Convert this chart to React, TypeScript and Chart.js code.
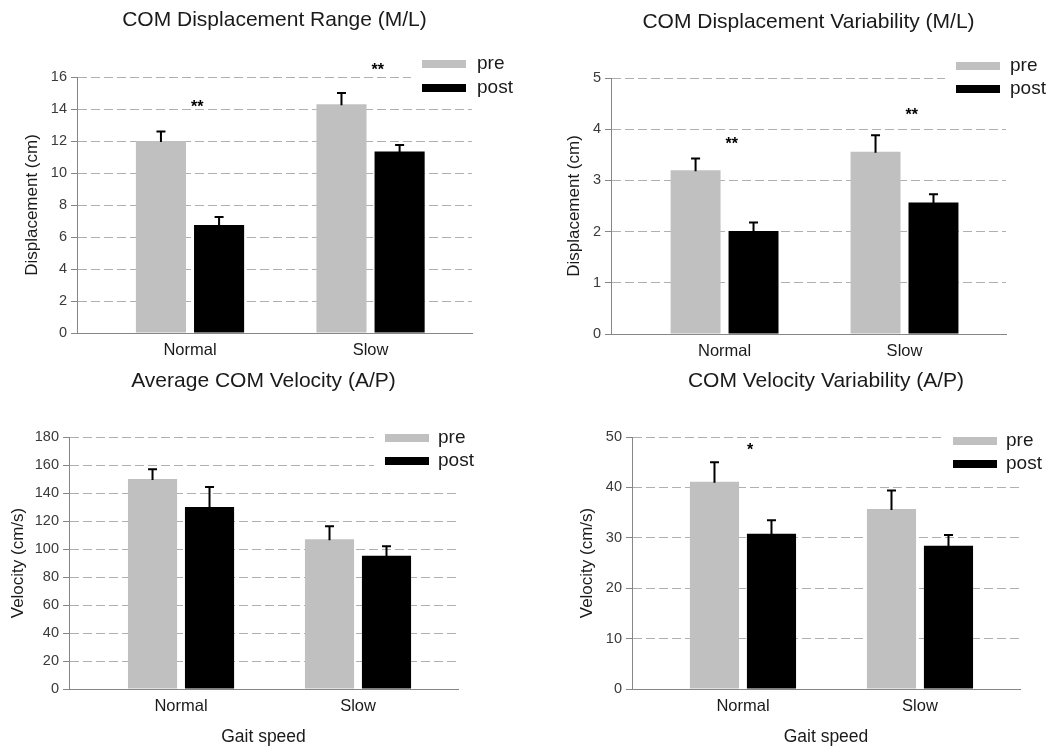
import React, { useEffect, useRef } from 'react';
import { Chart, registerables } from 'chart.js';

Chart.register(...registerables);

const FONT = "'Liberation Sans', Arial, Helvetica, sans-serif";

// ---------- shared data ----------
const categories = ['Normal', 'Slow'];
const seriesNames = ['pre', 'post'];
const xAxisTitle = 'Gait speed';

// ---------- Panel A: COM Displacement Range (M/L) ----------
const rangeTitle = 'COM Displacement Range (M/L)';
const rangeYLabel = 'Displacement (cm)';
const rangePre = [12.0, 14.3];
const rangePreErr = [0.6, 0.7];
const rangePost = [6.75, 11.35];
const rangePostErr = [0.5, 0.4];
const rangeYMax = 16;
const rangeYStep = 2;
const rangeSig = ['**', '**'];
const rangeSigY = [14.4, 16.7];

// ---------- Panel B: COM Displacement Variability (M/L) ----------
const dispVarTitle = 'COM Displacement Variability (M/L)';
const dispVarYLabel = 'Displacement (cm)';
const dispVarPre = [3.2, 3.56];
const dispVarPreErr = [0.23, 0.32];
const dispVarPost = [2.01, 2.57];
const dispVarPostErr = [0.17, 0.16];
const dispVarYMax = 5;
const dispVarYStep = 1;
const dispVarSig = ['**', '**'];
const dispVarSigY = [3.79, 4.36];

// ---------- Panel C: Average COM Velocity (A/P) ----------
const avgVelTitle = 'Average COM Velocity (A/P)';
const avgVelYLabel = 'Velocity (cm/s)';
const avgVelPre = [150, 107];
const avgVelPreErr = [7, 9.3];
const avgVelPost = [130, 95.2];
const avgVelPostErr = [14.3, 6.7];
const avgVelYMax = 180;
const avgVelYStep = 20;
const avgVelSig: string[] = ['', ''];
const avgVelSigY = [0, 0];

// ---------- Panel D: COM Velocity Variability (A/P) ----------
const velVarTitle = 'COM Velocity Variability (A/P)';
const velVarYLabel = 'Velocity (cm/s)';
const velVarPre = [41.1, 35.7];
const velVarPreErr = [3.9, 3.7];
const velVarPost = [30.8, 28.4];
const velVarPostErr = [2.7, 2.15];
const velVarYMax = 50;
const velVarYStep = 10;
const velVarSig = ['*', ''];
const velVarSigY = [48.3, 0];

// ---------- styles ----------
const PRE_COLOR = '#c0c0c0';
const POST_COLOR = '#000000';
const AXIS_COLOR = '#868686';
const GRID_COLOR = '#b0b0b0';
const TEXT_COLOR = '#1a1a1a';
const TICK_COLOR = '#3a3a3a';
const SIG_DX = 0.04;

type Layout = {
  x: number; y: number; w: number; h: number;
  axisX: number; plotTop: number; bottom: number; right: number;
  xMin: number; xMax: number;
  titleY: number; yTitleX: number;
  swatchX: number; textX: number; legY1: number; legY2: number;
  xTitle: boolean;
};

const layouts: Layout[] = [
  { x: 0, y: 0, w: 529, h: 360, axisX: 77, plotTop: 77, bottom: 333, right: 472, xMin: -0.626, xMax: 1.562, titleY: 20, yTitleX: 32, swatchX: 422, textX: 477, legY1: 64, legY2: 88, xTitle: false },
  { x: 529, y: 0, w: 529, h: 360, axisX: 82, plotTop: 78, bottom: 334, right: 477, xMin: -0.631, xMax: 1.564, titleY: 22, yTitleX: 45, swatchX: 427, textX: 481, legY1: 66, legY2: 89, xTitle: false },
  { x: 0, y: 360, w: 529, h: 387, axisX: 69, plotTop: 77, bottom: 329, right: 458, xMin: -0.633, xMax: 1.565, titleY: 21, yTitleX: 18, swatchX: 385, textX: 438, legY1: 78, legY2: 101, xTitle: true },
  { x: 529, y: 360, w: 529, h: 387, axisX: 103, plotTop: 77, bottom: 329, right: 491, xMin: -0.627, xMax: 1.565, titleY: 21, yTitleX: 58, swatchX: 424, textX: 477, legY1: 81, legY2: 104, xTitle: true },
];

type PanelSpec = {
  title: string; yLabel: string;
  pre: number[]; preErr: number[]; post: number[]; postErr: number[];
  yMax: number; yStep: number; sig: string[]; sigY: number[];
  layout: Layout;
};

const panels: PanelSpec[] = [
  { title: rangeTitle, yLabel: rangeYLabel, pre: rangePre, preErr: rangePreErr, post: rangePost, postErr: rangePostErr, yMax: rangeYMax, yStep: rangeYStep, sig: rangeSig, sigY: rangeSigY, layout: layouts[0] },
  { title: dispVarTitle, yLabel: dispVarYLabel, pre: dispVarPre, preErr: dispVarPreErr, post: dispVarPost, postErr: dispVarPostErr, yMax: dispVarYMax, yStep: dispVarYStep, sig: dispVarSig, sigY: dispVarSigY, layout: layouts[1] },
  { title: avgVelTitle, yLabel: avgVelYLabel, pre: avgVelPre, preErr: avgVelPreErr, post: avgVelPost, postErr: avgVelPostErr, yMax: avgVelYMax, yStep: avgVelYStep, sig: avgVelSig, sigY: avgVelSigY, layout: layouts[2] },
  { title: velVarTitle, yLabel: velVarYLabel, pre: velVarPre, preErr: velVarPreErr, post: velVarPost, postErr: velVarPostErr, yMax: velVarYMax, yStep: velVarYStep, sig: velVarSig, sigY: velVarSigY, layout: layouts[3] },
];

const overlayPlugin = {
  id: 'overlay',
  afterDatasetsDraw(chart: any, _args: any, opts: any) {
    const ctx = chart.ctx;
    const yS = chart.scales.y;
    const xS = chart.scales.x;
    // error bars (upper only)
    chart.data.datasets.forEach((ds: any, di: number) => {
      const meta = chart.getDatasetMeta(di);
      meta.data.forEach((bar: any, i: number) => {
        const v = ds.data[i].y;
        const e = ds.errors[i];
        const top = yS.getPixelForValue(v + e);
        const base = yS.getPixelForValue(v);
        ctx.save();
        ctx.strokeStyle = '#000';
        ctx.lineWidth = 2;
        ctx.beginPath();
        ctx.moveTo(bar.x, base + 1);
        ctx.lineTo(bar.x, top);
        ctx.moveTo(bar.x - 4.5, top);
        ctx.lineTo(bar.x + 4.5, top);
        ctx.stroke();
        ctx.restore();
      });
    });
    // significance markers
    const sig: string[] = opts.sig || [];
    const sigY: number[] = opts.sigY || [];
    ctx.save();
    ctx.fillStyle = '#000';
    ctx.font = `bold 16px ${FONT}`;
    ctx.textAlign = 'center';
    ctx.textBaseline = 'alphabetic';
    sig.forEach((s, i) => {
      if (!s) return;
      const px = xS.getPixelForValue(i + SIG_DX);
      const py = yS.getPixelForValue(sigY[i]) + 0.58 * 16;
      ctx.fillText(s, px, py);
    });
    ctx.restore();
  },
  afterDraw(chart: any, _args: any, opts: any) {
    const ctx = chart.ctx;
    const L: Layout = opts.layout;
    ctx.save();
    ctx.fillStyle = '#ffffff';
    ctx.fillRect(L.swatchX - 11, L.legY1 - 14, L.w - (L.swatchX - 11), L.legY2 - L.legY1 + 26);
    const ys = [L.legY1, L.legY2];
    chart.data.datasets.forEach((ds: any, di: number) => {
      ctx.fillStyle = ds.backgroundColor;
      ctx.fillRect(L.swatchX, ys[di] - 4, 44, 8);
      ctx.fillStyle = TEXT_COLOR;
      ctx.font = `19px ${FONT}`;
      ctx.textAlign = 'left';
      ctx.textBaseline = 'middle';
      ctx.fillText(ds.label, L.textX, ys[di]);
    });
    ctx.restore();
  },
};

function buildConfig(p: PanelSpec): any {
  const L = p.layout;
  const titleLH = 25.2;
  return {
    type: 'bar',
    data: {
      datasets: [
        {
          label: seriesNames[0],
          data: p.pre.map((v, i) => ({ x: i, y: v })),
          errors: p.preErr,
          backgroundColor: PRE_COLOR,
          borderWidth: 0,
          categoryPercentage: 0.644,
          barPercentage: 0.862,
        },
        {
          label: seriesNames[1],
          data: p.post.map((v, i) => ({ x: i, y: v })),
          errors: p.postErr,
          backgroundColor: POST_COLOR,
          borderWidth: 0,
          categoryPercentage: 0.644,
          barPercentage: 0.862,
        },
      ],
    },
    options: {
      responsive: false,
      animation: false,
      devicePixelRatio: 1,
      events: [],
      layout: { padding: { left: 0, top: 0, right: L.w - L.right, bottom: 0 } },
      plugins: {
        legend: { display: false },
        tooltip: { enabled: false },
        title: {
          display: true,
          text: p.title,
          fullSize: false,
          color: TEXT_COLOR,
          font: { size: 21, family: FONT, weight: 'normal', lineHeight: 1.2 },
          padding: { top: L.titleY - titleLH / 2, bottom: L.plotTop - L.titleY - titleLH / 2 },
        },
        overlay: { sig: p.sig, sigY: p.sigY, layout: L },
      },
      scales: {
        x: {
          type: 'linear',
          min: L.xMin,
          max: L.xMax,
          bounds: 'data',
          offset: false,
          grid: { display: false, drawTicks: false, tickLength: 0 },
          border: { display: true, color: AXIS_COLOR, width: 1 },
          ticks: {
            padding: 7.5,
            color: TEXT_COLOR,
            font: { size: 16.5, family: FONT, lineHeight: 1.2 },
            maxRotation: 0,
            autoSkip: false,
            callback: (v: number) => categories[Math.round(v)] ?? '',
          },
          afterBuildTicks: (s: any) => {
            s.ticks = categories.map((_, i) => ({ value: i }));
          },
          afterFit: (s: any) => {
            s.height = L.h - L.bottom;
          },
          title: L.xTitle
            ? {
                display: true,
                text: xAxisTitle,
                color: TEXT_COLOR,
                font: { size: 17.5, family: FONT, lineHeight: 1 },
                padding: { top: 0, bottom: 1.25 },
              }
            : { display: false },
        },
        y: {
          min: 0,
          max: p.yMax,
          ticks: {
            stepSize: p.yStep,
            padding: 4,
            color: TICK_COLOR,
            font: { size: 14.5, family: FONT },
          },
          grid: {
            color: GRID_COLOR,
            lineWidth: 1,
            drawTicks: true,
            tickLength: 6,
            tickColor: AXIS_COLOR,
            tickBorderDash: [],
          },
          border: { display: true, color: AXIS_COLOR, width: 1, dash: [9, 4] },
          title: {
            display: true,
            text: p.yLabel,
            color: TEXT_COLOR,
            font: { size: 17, family: FONT, lineHeight: 1.2 },
            padding: { top: L.yTitleX - 10.2, bottom: 0 },
          },
          afterFit: (s: any) => {
            s.width = L.axisX;
          },
        },
      },
    },
    plugins: [overlayPlugin],
  };
}

function Panel({ spec }: { spec: PanelSpec }) {
  const ref = useRef<HTMLCanvasElement | null>(null);
  useEffect(() => {
    if (!ref.current) return;
    const chart = new Chart(ref.current, buildConfig(spec));
    return () => chart.destroy();
  }, [spec]);
  const L = spec.layout;
  return (
    <canvas
      ref={ref}
      width={L.w}
      height={L.h}
      style={{ position: 'absolute', left: L.x, top: L.y, width: L.w, height: L.h }}
    />
  );
}

export default function App() {
  return (
    <div style={{ position: 'absolute', left: 0, top: 0, width: 1058, height: 747, background: '#ffffff', overflow: 'hidden' }}>
      {panels.map((p, i) => (
        <Panel key={i} spec={p} />
      ))}
    </div>
  );
}
